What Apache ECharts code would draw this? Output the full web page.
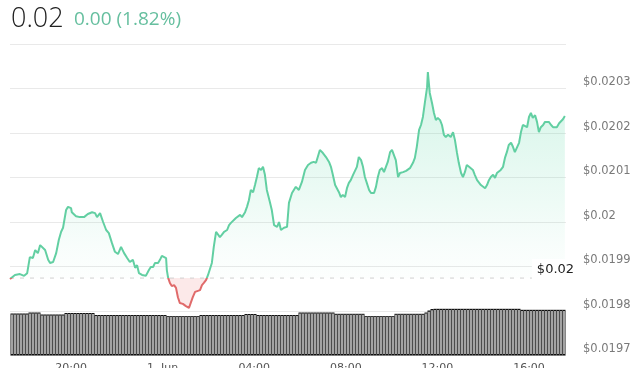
<!DOCTYPE html>
<html>
<head>
<meta charset="utf-8">
<script src="https://cdn.jsdelivr.net/npm/echarts@6/dist/echarts.min.js"></script>
<style>
html,body{margin:0;padding:0;background:#fff;}
#chart{width:640px;height:368px;}
</style>
</head>
<body>
<div id="chart"></div>
<script>
// ---- data ----
const headerPrice = '0.02';
const headerChange = '0.00 (1.82%)';
const prevClose = 0.019874;
const prevCloseLabel = '$0.02';

// minutes since 31 May 00:00
const minutes = [
1040,1053,1066,1077,1085,1092,1100,1106,1113,1119,1124,1132,1140,1145,1153,1161,1168,1174,1179,1187,
1192,1200,1202,1213,1223,1234,1244,1255,1263,1268,1276,1284,1292,1299,1307,1315,1323,1331,1339,1347,
1354,1362,1368,1373,1378,1386,1396,1404,1409,1415,1420,1428,1433,1438,1443,1449,1451,1454,1459,1464,
1470,1475,1480,1485,1493,1501,1509,1514,1519,1525,1530,1538,1543,1548,1554,1559,1564,1569,1574,1580,
1585,1590,1595,1601,1609,1614,1619,1624,1632,1637,1643,1648,1656,1661,1666,1671,1677,1682,1687,1692,
1698,1703,1708,1713,1721,1726,1732,1740,1745,1750,1758,1766,1771,1779,1784,1789,1797,1805,1813,1821,
1829,1836,1842,1847,1852,1860,1868,1876,1881,1886,1892,1897,1902,1907,1912,1918,1923,1928,1933,1939,
1944,1949,1954,1960,1965,1970,1975,1981,1986,1994,1999,2004,2009,2015,2020,2025,2030,2036,2041,2046,
2051,2057,2062,2070,2078,2083,2088,2096,2101,2106,2112,2117,2122,2127,2133,2135,2140,2146,2151,2156,
2161,2167,2172,2177,2182,2188,2193,2195,2201,2206,2211,2216,2222,2227,2232,2237,2243,2248,2253,2258,
2264,2269,2274,2279,2285,2290,2295,2300,2306,2311,2316,2321,2326,2332,2337,2342,2347,2353,2358,2363,
2368,2374,2379,2384,2389,2395,2400,2405,2410,2416,2421,2426,2431,2437,2442,2447,2452,2458,2463,2468,
2473,2479,2484,2489,2494
];
const prices = [
0.019872,0.019881,0.019883,0.019879,0.019885,0.019921,0.019919,0.019937,0.019930,0.019948,
0.019948,0.019937,0.019915,0.019908,0.019910,0.019930,0.019960,0.019978,0.019987,0.020027,
0.020034,0.020031,0.020022,0.020013,0.020011,0.020011,0.020018,0.020022,0.020020,0.020011,
0.020020,0.020000,0.019982,0.019975,0.019953,0.019933,0.019928,0.019944,0.019930,0.019919,
0.019910,0.019915,0.019897,0.019903,0.019885,0.019881,0.019879,0.019892,0.019899,0.019899,
0.019908,0.019908,0.019915,0.019924,0.019921,0.019919,0.019892,0.019876,0.019863,0.019856,
0.019858,0.019852,0.019831,0.019818,0.019816,0.019811,0.019807,0.019805,0.019831,0.019843,
0.019843,0.019847,0.019858,0.019863,0.019870,0.019881,0.019885,0.019908,0.019944,0.019978,
0.019982,0.019966,0.019971,0.019978,0.019982,0.019993,0.019998,0.020000,0.020009,0.020011,
0.020016,0.020011,0.020022,0.020034,0.020049,0.020072,0.020067,0.020083,0.020101,0.020121,
0.020117,0.020124,0.020106,0.020072,0.020045,0.020027,0.019993,0.019989,0.020000,0.019982,
0.019987,0.019989,0.020043,0.020065,0.020067,0.020079,0.020072,0.020090,0.020117,0.020128,
0.020133,0.020135,0.020133,0.020135,0.020162,0.020155,0.020146,0.020135,0.020124,0.020106,
0.020083,0.020079,0.020067,0.020056,0.020061,0.020056,0.020076,0.020088,0.020094,0.020106,
0.020110,0.020124,0.020146,0.020139,0.020124,0.020101,0.020088,0.020072,0.020065,0.020065,
0.020079,0.020101,0.020117,0.020121,0.020112,0.020110,0.020135,0.020157,0.020162,0.020166,
0.020139,0.020101,0.020110,0.020112,0.020115,0.020117,0.020121,0.020133,0.020144,0.020169,
0.020207,0.020218,0.020236,0.020267,0.020303,0.020337,0.020290,0.020267,0.020245,0.020229,
0.020234,0.020229,0.020218,0.020196,0.020191,0.020196,0.020200,0.020191,0.020202,0.020184,
0.020157,0.020133,0.020110,0.020101,0.020112,0.020128,0.020124,0.020121,0.020117,0.020106,
0.020094,0.020090,0.020083,0.020079,0.020076,0.020083,0.020094,0.020101,0.020106,0.020099,
0.020110,0.020112,0.020117,0.020124,0.020144,0.020157,0.020173,0.020178,0.020169,0.020157,
0.020155,0.020178,0.020202,0.020218,0.020222,0.020213,0.020236,0.020245,0.020234,0.020240,
0.020225,0.020202,0.020213,0.020218,0.020225,0.020222,0.020225,0.020218,0.020213,0.020211,
0.020213,0.020222,0.020225,0.020231,0.020238
];

// volume bars (arbitrary units), evenly spaced across the day
const volumes = [
42,42,42,42,42,42,
43,43,43,43,
41,41,41,41,41,41,41,41,
42.5,42.5,42.5,42.5,42.5,42.5,42.5,42.5,42.5,42.5,
40.5,40.5,40.5,40.5,40.5,40.5,40.5,40.5,40.5,40.5,40.5,40.5,
40.5,40.5,40.5,40.5,40.5,40.5,40.5,40.5,40.5,40.5,40.5,40.5,
39.5,39.5,39.5,39.5,39.5,39.5,39.5,39.5,39.5,39.5,39.5,
40.5,40.5,40.5,40.5,40.5,40.5,40.5,40.5,40.5,40.5,40.5,40.5,40.5,40.5,40.5,
41.5,41.5,41.5,41.5,
40.5,40.5,40.5,40.5,40.5,40.5,40.5,40.5,40.5,40.5,40.5,40.5,40.5,40.5,
43,43,43,43,43,43,43,43,43,43,43,43,
41.7,41.7,41.7,41.7,41.7,41.7,41.7,41.7,41.7,41.7,
39.5,39.5,39.5,39.5,39.5,39.5,39.5,39.5,39.5,39.5,
41.7,41.7,41.7,41.7,41.7,41.7,41.7,41.7,41.7,41.7,
43,45,46.5,
46.7,46.7,46.7,46.7,46.7,46.7,46.7,46.7,46.7,46.7,
46.7,46.7,46.7,46.7,46.7,46.7,46.7,46.7,46.7,46.7,
46.7,46.7,46.7,46.7,46.7,46.7,46.7,46.7,46.7,
45.7,45.7,45.7,45.7,45.7,45.7,45.7,45.7,45.7,45.7,45.7,45.7,45.7,45.7,45.7
];

const xTickMinutes = [1200, 1440, 1680, 1920, 2160, 2400];
const xTickLabels = ['20:00', '1. Jun', '04:00', '08:00', '12:00', '16:00'];

// ---- chart ----
const GREEN = '#62cfa2';
const RED = '#e06a6a';
const lineData = minutes.map((m, i) => [m, prices[i]]);
const baseData = minutes.map(m => [m, prevClose]);
const upData = minutes.map((m, i) => [m, Math.max(prices[i], prevClose)]);
const downData = minutes.map((m, i) => [m, Math.min(prices[i], prevClose)]);
const volSlots = volumes.map((_, i) => i);

const chart = echarts.init(document.getElementById('chart'), null, {renderer: 'canvas', width: 640, height: 368});
chart.setOption({
  animation: false,
  backgroundColor: '#fff',
  graphic: [
    {type: 'text', left: 11, top: 6, style: {text: headerPrice, font: '300 27px "Open Sans"', fill: '#222'}},
    {type: 'text', left: 74, top: 10, style: {text: headerChange, font: '400 19px "Open Sans"', fill: '#66bf9f'}}
  ],
  grid: [
    {left: 10, right: 74, top: 44, bottom: 12.5, outerBoundsMode: 'none', containLabel: false},
    // volume: dark outline layer
    {left: 10.5, right: 74.5, top: 300, bottom: 12.5, outerBoundsMode: 'none', containLabel: false},
    // volume: grey body layer
    {left: 10.5, right: 74.5, top: 301, bottom: 14, outerBoundsMode: 'none', containLabel: false}
  ],
  xAxis: [
    {
      type: 'value', gridIndex: 0, min: 1040, max: 2497,
      splitLine: {show: false}, axisLine: {show: false}, axisTick: {show: false},
      axisLabel: {
        customValues: xTickMinutes,
        formatter: v => { const k = xTickMinutes.indexOf(v); return k >= 0 ? xTickLabels[k] : ''; },
        margin: 7, color: '#555', fontSize: 11, fontFamily: 'DejaVu Sans'
      }
    },
    {type: 'category', gridIndex: 1, data: volSlots, show: false, boundaryGap: true},
    {type: 'category', gridIndex: 2, data: volSlots, show: false, boundaryGap: true}
  ],
  yAxis: [
    {
      type: 'value', gridIndex: 0, position: 'right', min: 0.0197, max: 0.0204, interval: 0.0001,
      splitLine: {lineStyle: {color: '#e9e9e9', width: 1}},
      axisLine: {show: false}, axisTick: {show: false},
      axisLabel: {
        showMaxLabel: false, margin: 17, verticalAlign: 'bottom',
        color: '#7a7a7a', fontSize: 11.5, fontFamily: 'DejaVu Sans',
        formatter: v => '$' + parseFloat(v.toFixed(4))
      }
    },
    {type: 'value', gridIndex: 1, min: 0, max: 55.5, show: false},
    {type: 'value', gridIndex: 2, min: 0, max: 56.35, show: false}
  ],
  series: [
    {
      id: 'price', type: 'line', xAxisIndex: 0, yAxisIndex: 0, data: lineData, symbol: 'none',
      lineStyle: {width: 2, color: GREEN}, z: 5
    },
    {
      type: 'line', xAxisIndex: 0, yAxisIndex: 0, data: baseData, symbol: 'none', silent: true,
      lineStyle: {color: '#cfcfcf', type: [4, 6], width: 1}, z: 4,
      endLabel: {
        show: true, formatter: prevCloseLabel, distance: 0, offset: [-33, -8],
        color: '#222', fontSize: 13, fontFamily: 'DejaVu Sans',
        backgroundColor: '#fff', padding: [4, 8, 5, 5]
      }
    },
    {
      type: 'line', xAxisIndex: 0, yAxisIndex: 0, data: upData, symbol: 'none', silent: true,
      lineStyle: {width: 0, opacity: 0}, z: 3,
      areaStyle: {
        origin: prevClose,
        color: new echarts.graphic.LinearGradient(0, 0, 0, 1, [
          {offset: 0, color: 'rgba(90,215,165,0.38)'},
          {offset: 0.6, color: 'rgba(90,215,165,0.16)'},
          {offset: 0.85, color: 'rgba(90,215,165,0.06)'},
          {offset: 1, color: 'rgba(90,215,165,0.02)'}
        ])
      }
    },
    {
      type: 'line', xAxisIndex: 0, yAxisIndex: 0, data: downData, symbol: 'none', silent: true,
      lineStyle: {width: 0, opacity: 0}, z: 3,
      areaStyle: {origin: prevClose, color: 'rgba(235,110,110,0.22)'}
    },
    {
      type: 'bar', xAxisIndex: 1, yAxisIndex: 1, data: volumes, barCategoryGap: '0%',
      itemStyle: {color: '#111'}, z: 2
    },
    {
      type: 'bar', xAxisIndex: 2, yAxisIndex: 2, data: volumes, barWidth: 2,
      itemStyle: {color: '#a3a3a3'}, z: 3
    }
  ]
});

// colour the price line red below the previous close, green above (split at the scale's pixel)
const yBase = chart.convertToPixel({yAxisIndex: 0}, prevClose);
const H = 368;
const f = yBase / H;
chart.setOption({
  series: [{
    id: 'price',
    lineStyle: {
      color: new echarts.graphic.LinearGradient(0, 0, 0, H, [
        {offset: 0, color: GREEN}, {offset: f, color: GREEN},
        {offset: f, color: RED}, {offset: 1, color: RED}
      ], true)
    }
  }]
});
</script>
</body>
</html>
